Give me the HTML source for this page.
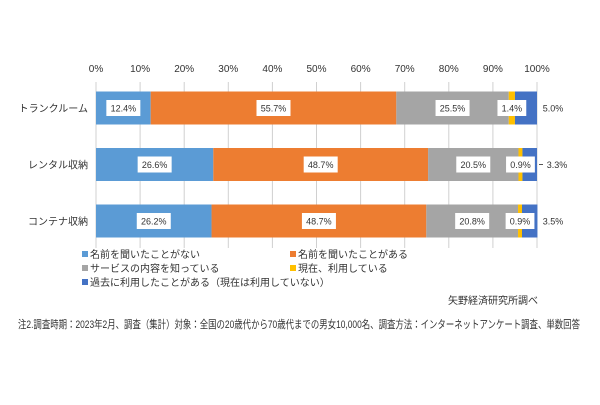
<!DOCTYPE html>
<html><head><meta charset="utf-8"><style>
body{margin:0;background:#fff;font-family:"Liberation Sans","Noto Sans CJK JP",sans-serif;}
svg text{font-family:"Liberation Sans","Noto Sans CJK JP",sans-serif;}
</style></head><body>
<svg id="c" width="600" height="400" xmlns="http://www.w3.org/2000/svg"></svg>
<script>
const categories=["トランクルーム","レンタル収納","コンテナ収納"];
const seriesNames=["名前を聞いたことがない","名前を聞いたことがある","サービスの内容を知っている","現在、利用している","過去に利用したことがある（現在は利用していない）"];
const s1=[12.4,26.6,26.2];
const s2=[55.7,48.7,48.7];
const s3=[25.5,20.5,20.8];
const s4=[1.4,0.9,0.9];
const s5=[5.0,3.3,3.5];
const ticks=[0,10,20,30,40,50,60,70,80,90,100];
const colors=["#5b9bd5","#ed7d31","#a5a5a5","#ffc000","#4472c4"];
const series=[s1,s2,s3,s4,s5];
const svg=document.getElementById('c');
const NS="http://www.w3.org/2000/svg";
const x0=96,x1=537,yTop=82,yBot=248;
const xs=v=>x0+(x1-x0)*v/100;
const rowC=i=>108+i*56.5;
const bh=33;
function mk(t,a,p){const e=document.createElementNS(NS,t);for(const k in a)e.setAttribute(k,a[k]);(p||svg).appendChild(e);return e;}
ticks.forEach(t=>{
 const g=mk('line',{x1:xs(t),x2:xs(t),y1:yTop,y2:yBot,stroke:'#d0d0d0','stroke-width':1});
 
 
 const tx=mk('text',{x:xs(t),y:72,'font-size':10,'text-anchor':'middle',fill:'#333'});
 tx.textContent=t+'%';
 
 
});
categories.forEach((c,i)=>{
 const cy=rowC(i);
 const lab=mk('text',{x:88,y:cy+4,'font-size':10,'text-anchor':'end',fill:'#333'});
 lab.textContent=c;
 
 
 let acc=0;
 series.forEach((s,j)=>{
  const v=s[i];
  const r=mk('rect',{x:xs(acc),y:cy-bh/2,width:xs(acc+v)-xs(acc),height:bh,fill:colors[j]});
  
  
  acc+=v;
 });
});
categories.forEach((c,i)=>{
 const cy=rowC(i);
 let acc=0;
 series.forEach((s,j)=>{
  const v=s[i];
  let mx=(xs(acc)+xs(acc+v))/2;
  const txt=v.toFixed(1)+'%';
  if(j===4){
   mx=xs(100)+16;
   if(i===1){mk('line',{x1:xs(100)+2,x2:xs(100)+6,y1:cy,y2:cy,stroke:'#555'});mx=xs(100)+20;}
   const t=mk('text',{x:mx,y:cy+3.5,'font-size':9,'text-anchor':'middle',fill:'#333'});
   t.textContent=txt;
   
   
  } else {
   const w=txt.length*5.2+8;
   mk('rect',{x:mx-w/2,y:cy-8,width:w,height:16,fill:'#fff'});
   const t=mk('text',{x:mx,y:cy+3.5,'font-size':9,'text-anchor':'middle',fill:'#333'});
   t.textContent=txt;
   
   
  }
  acc+=v;
 });
});
const leg=[[94,258],[302,258],[94,272],[302,272],[94,286]];
seriesNames.forEach((n,j)=>{
 const [lx,ly]=leg[j];
 const r=mk('rect',{x:lx-12,y:ly-7,width:6,height:6,fill:colors[j]});
 
 
 const t=mk('text',{x:lx-4,y:ly,'font-size':10,fill:'#333'});
 t.textContent=n;
 
 
});
const src=mk('text',{x:538,y:304,'font-size':10,'text-anchor':'end',fill:'#333'});
src.textContent='矢野経済研究所調べ';


const note=mk('text',{x:18,y:328,'font-size':11,fill:'#333',textLength:562,lengthAdjust:'spacingAndGlyphs'});
note.textContent='注2.調査時期：2023年2月、調査（集計）対象：全国の20歳代から70歳代までの男女10,000名、調査方法：インターネットアンケート調査、単数回答';


</script>
</body></html>
